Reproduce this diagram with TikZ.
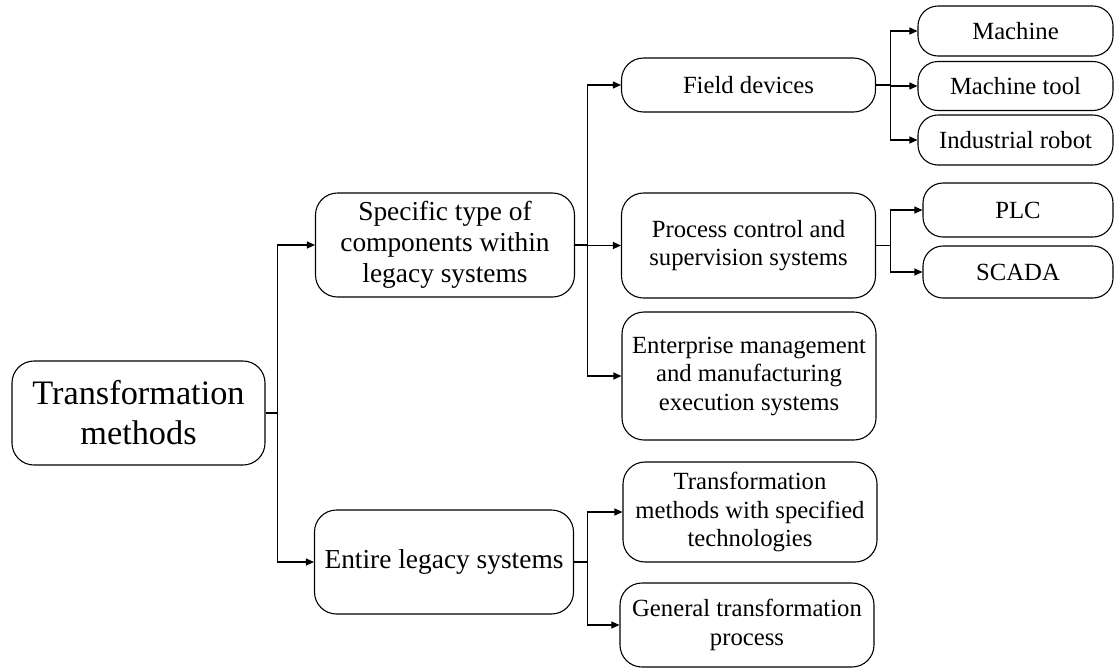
\documentclass[tikz,border=0pt]{standalone}
\usepackage{fontspec}
\setmainfont{Liberation Serif}
\usetikzlibrary{arrows.meta}
\tikzset{>={Triangle[length=8pt,width=7pt]}}
\tikzset{
    box/.style={draw, line width=1.1pt, rounded corners=22pt, align=center, inner sep=0pt},
    rootbox/.style={box, minimum width=253pt, minimum height=104pt, font=\fontsize{34.3}{40}\selectfont},
    midbox/.style={box, minimum width=259pt, minimum height=104pt, font=\fontsize{27.4}{31}\selectfont},
    subbox/.style={box, minimum width=254pt, font=\fontsize{24.7}{28.5}\selectfont},
    leafbox/.style={box, rounded corners=20pt, font=\fontsize{24.7}{28.5}\selectfont},
    link/.style={line width=1.1pt, ->}
}

\begin{document}
\begin{tikzpicture}[x=1pt, y=1pt]
    \useasboundingbox (0,0) rectangle (1115,-670);
    \node[rootbox] (root) at (138.5,-413) {Transformation\\methods};
    \node[midbox] (spec) at (445,-245) {Specific type of\\components within\\legacy systems};
    \node[midbox] (whole) at (444,-562) {Entire legacy systems};
    \node[subbox, minimum height=54pt] (field) at (748.5,-85) {Field devices};
    \node[subbox, minimum height=105pt] (proc) at (748.5,-245.5) {Process control and\\supervision systems};
    \node[subbox, minimum height=128pt] (erp) at (749,-376) {Enterprise management\\and manufacturing\\execution systems};
    \node[subbox, minimum height=100pt] (tech) at (750,-512) {Transformation\\methods with specified\\technologies};
    \node[subbox, minimum height=84pt] (gen) at (747,-625) {General transformation\\process};
    \node[leafbox, minimum width=195pt, minimum height=50pt] (mach) at (1015.5,-31) {Machine};
    \node[leafbox, minimum width=195pt, minimum height=49pt] (tool) at (1015.5,-86) {Machine tool};
    \node[leafbox, minimum width=195pt, minimum height=50pt] (robot) at (1015.5,-140) {Industrial robot};
    \node[leafbox, minimum width=190pt, minimum height=54pt] (plc) at (1018,-210) {PLC};
    \node[leafbox, minimum width=190pt, minimum height=52pt] (scada) at (1018,-272) {SCADA};

    \draw[link] (root.east) -- ++(12,0) |- (spec.west);
    \draw[link] (root.east) -- ++(12,0) |- (whole.west);
    \draw[link] (spec.east) -- ++(12,0) |- (field.west);
    \draw[link] (spec.east) -- ++(12,0) |- (proc.west);
    \draw[link] (spec.east) -- ++(12,0) |- (erp.west);
    \draw[link] (whole.east) -- ++(13,0) |- (tech.west);
    \draw[link] (whole.east) -- ++(13,0) |- (gen.west);
    \draw[link] (field.east) -- ++(14,0) |- (mach.west);
    \draw[link] (field.east) -- ++(14,0) |- (tool.west);
    \draw[link] (field.east) -- ++(14,0) |- (robot.west);
    \draw[link] (proc.east) -- ++(14,0) |- (plc.west);
    \draw[link] (proc.east) -- ++(14,0) |- (scada.west);
\end{tikzpicture}
\end{document}
